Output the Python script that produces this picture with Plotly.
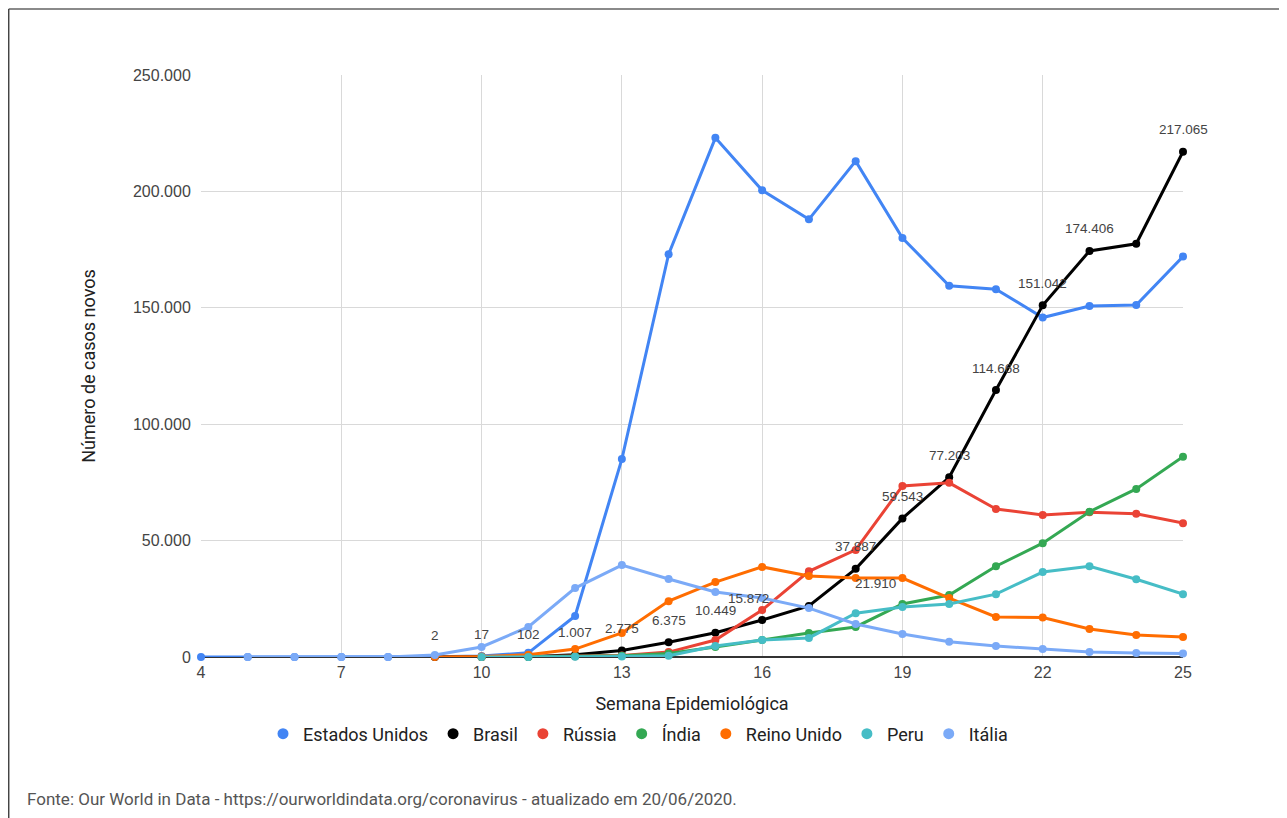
import plotly.graph_objects as go

weeks = list(range(4, 26))

estados_unidos = [0, 0, 0, 0, 0, 100, 400, 1800, 17600, 85000, 173000, 223000, 200500, 188000,
                  213000, 180000, 159500, 158000, 145800, 150800, 151200, 172000]
brasil_weeks = list(range(9, 26))
brasil = [2, 17, 102, 1007, 2775, 6375, 10449, 15872, 21910, 37887, 59543, 77203, 114668,
          151042, 174406, 177500, 217065]
russia_weeks = list(range(10, 26))
russia = [0, 100, 300, 600, 2100, 7300, 20200, 36800, 46000, 73500, 74800, 63600, 61000,
          62200, 61500, 57500]
india_weeks = list(range(10, 26))
india = [0, 50, 300, 500, 1500, 4300, 7300, 10300, 12900, 22800, 26600, 39000, 48900,
         62400, 72200, 86000]
reino_unido_weeks = list(range(9, 26))
reino_unido = [0, 200, 1000, 3400, 10300, 24000, 32200, 38700, 34800, 33900, 33900, 25300,
               17200, 17000, 12000, 9500, 8600]
peru_weeks = list(range(10, 26))
peru = [0, 0, 100, 200, 500, 4700, 7300, 8200, 18800, 21500, 22800, 27000, 36500, 39000,
        33400, 27000]
italia_weeks = list(range(5, 26))
italia = [0, 0, 0, 0, 900, 4300, 12900, 29600, 39500, 33500, 27900, 25300, 21000, 14200,
          9900, 6600, 4700, 3400, 2100, 1700, 1500]

# labels shown on Brazil points (False = hidden)
brasil_labels_show = [True] * 15 + [False, True]

series = [
    ("Estados Unidos", weeks, estados_unidos, "#4285F4"),
    ("Brasil", brasil_weeks, brasil, "#000000"),
    ("Rússia", russia_weeks, russia, "#EA4335"),
    ("Índia", india_weeks, india, "#34A853"),
    ("Reino Unido", reino_unido_weeks, reino_unido, "#FF6D01"),
    ("Peru", peru_weeks, peru, "#46BDC6"),
    ("Itália", italia_weeks, italia, "#7BAAF7"),
]

fig = go.Figure()
for name, xs, ys, color in series:
    fig.add_trace(go.Scatter(
        x=xs, y=ys, name=name, mode="lines+markers",
        line=dict(color=color, width=3),
        marker=dict(color=color, size=8),
        cliponaxis=False, showlegend=False, legendgroup=name,
    ))
# marker-only legend entries
for name, xs, ys, color in series:
    fig.add_trace(go.Scatter(
        x=[None], y=[None], name=name, mode="markers",
        marker=dict(color=color, size=11), legendgroup=name, showlegend=True,
    ))

def fmt(v):
    return f"{v:,}".replace(",", ".")

# per-label horizontal nudges (px) where the original moved labels sideways
label_xshift = {17: 67, 16: -14}
for wk, v, show in zip(brasil_weeks, brasil, brasil_labels_show):
    if not show:
        continue
    fig.add_annotation(
        x=wk, y=v, xref="x", yref="y", text=fmt(v), showarrow=False,
        yshift=22, xshift=label_xshift.get(wk, 0),
        font=dict(family="Arial, Liberation Sans", size=13.5, color="#444444"),
    )

# page is offset by the 8px body margin; figure coords = page coords - 8
OFF = 8
W, H = 1279, 810
L, R, T, B = 201 - OFF, 104, 75 - OFF, 161
pw, ph = W - L - R, H - T - B

def px_x(x):
    return (x - OFF - L) / pw

def px_y(y):
    return (H - B - (y - OFF)) / ph

fig.add_annotation(
    x=px_x(25), y=px_y(799), xref="paper", yref="paper", xanchor="left", yanchor="middle",
    text="Fonte: Our World in Data - https://ourworldindata.org/coronavirus - atualizado em 20/06/2020.",
    showarrow=False,
    font=dict(family="Liberation Sans Narrow, Roboto", size=17, color="#555555"),
)

# frame lines (top and left)
fig.add_shape(type="line", xref="paper", yref="paper", x0=px_x(8.7), x1=px_x(1287),
              y0=px_y(9), y1=px_y(9), line=dict(color="#8a8a8a", width=2))
fig.add_shape(type="line", xref="paper", yref="paper", x0=px_x(8.7), x1=px_x(8.7),
              y0=px_y(9), y1=px_y(818), line=dict(color="#444444", width=1.5))

fig.update_layout(
    width=W, height=H,
    margin=dict(l=L, r=R, t=T, b=B, pad=0),
    paper_bgcolor="white", plot_bgcolor="white",
    separators=",.",
    font=dict(family="Roboto, Arial", color="#222222"),
    showlegend=True,
    legend=dict(orientation="h", x=px_x(638), y=px_y(734), xanchor="center", yanchor="middle",
                font=dict(family="Roboto", size=18, color="#222222"),
                itemwidth=30, tracegroupgap=0,
                bgcolor="rgba(0,0,0,0)"),
    xaxis=dict(
        range=[4, 25], tickmode="array", tickvals=list(range(4, 26, 3)),
        showgrid=True, gridcolor="#d9d9d9", gridwidth=1,
        zeroline=False, showline=False, ticks="outside", ticklen=1, tickcolor="rgba(0,0,0,0)",
        tickfont=dict(family="Arial, Liberation Sans", size=16, color="#444444"),
        title=dict(text="Semana Epidemiológica", font=dict(family="Roboto", size=18, color="#222222"),
                   standoff=17),
    ),
    yaxis=dict(
        range=[0, 250000], tickmode="array", tickvals=[0, 50000, 100000, 150000, 200000, 250000],
        tickformat=",d",
        showgrid=True, gridcolor="#d9d9d9", gridwidth=1,
        zeroline=True, zerolinecolor="#333333", zerolinewidth=1.5,
        showline=False, ticks="outside", ticklen=6, tickcolor="rgba(0,0,0,0)",
        tickfont=dict(family="Arial, Liberation Sans", size=16, color="#444444"),
        title=dict(text="Número de casos novos", font=dict(family="Roboto", size=18, color="#222222"),
                   standoff=32),
    ),
)

fig.write_html("out.html")
